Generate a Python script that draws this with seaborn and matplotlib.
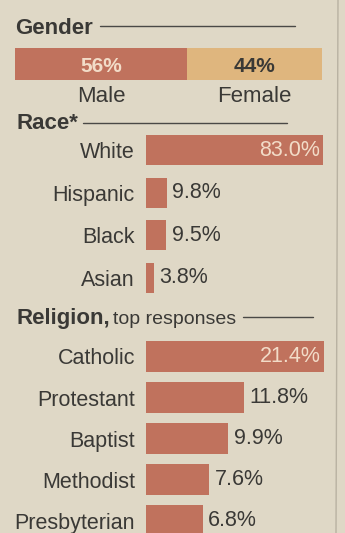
import matplotlib
matplotlib.use("Agg")
import matplotlib.pyplot as plt
import seaborn as sns
import pandas as pd

# ---------------- data ----------------
gender_labels = ["Male", "Female"]
gender_values = [56, 44]

race_labels = ["White", "Hispanic", "Black", "Asian"]
race_values = [83.0, 9.8, 9.5, 3.8]

religion_labels = ["Catholic", "Protestant", "Baptist", "Methodist", "Presbyterian"]
religion_values = [21.4, 11.8, 9.9, 7.6, 6.8]

# ---------------- style ----------------
BG = "#dfd8c6"
BAR = "#c0725d"
FEMALE = "#dfb67e"
TXT = "#3a3936"
INNER = "#f2dcc8"

sns.set_theme(style="white")
plt.rcParams["font.family"] = ["Liberation Sans", "DejaVu Sans"]

W, H = 345, 533
fig = plt.figure(figsize=(W / 100, H / 100), dpi=100, facecolor=BG)


def px_axes(x0, y0, x1, y1):
    ax = fig.add_axes([x0 / W, 1 - y1 / H, (x1 - x0) / W, (y1 - y0) / H])
    ax.set_facecolor("none")
    for s in ax.spines.values():
        s.set_visible(False)
    return ax


def px_line(x0, x1, y, lw=1.0, color="#4a4946"):
    fig.add_artist(plt.Line2D([x0 / W, x1 / W], [1 - y / H, 1 - y / H],
                              color=color, lw=lw, transform=fig.transFigure))


def px_text(x, y, s, **kw):
    fig.text(x / W, 1 - y / H, s, color=kw.pop("color", TXT), **kw)


# ---------------- Gender ----------------
px_text(15, 34, "Gender", fontsize=16, fontweight="bold", va="baseline")
px_line(100, 295, 26)

axg = px_axes(15, 48, 322, 80)
total = sum(gender_values)
sns.barplot(x=[total], y=["Gender"], orient="h", color=FEMALE, width=1.0,
            saturation=1, linewidth=0, ax=axg)
sns.barplot(x=[gender_values[0]], y=["Gender"], orient="h", color=BAR, width=1.0,
            saturation=1, linewidth=0, ax=axg)
axg.set_xlim(0, total)
axg.set_ylim(0.5, -0.5)
axg.set_xticks([]); axg.set_yticks([])
axg.set_xlabel(""); axg.set_ylabel("")
left = 0
for i, (lab, v) in enumerate(zip(gender_labels, gender_values)):
    c = left + v / 2
    axg.text(c, 0.08, f"{v}%", ha="center", va="center", fontsize=15,
             fontweight="bold", color=INNER if i == 0 else TXT)
    axg.text(c, 1.0, lab, ha="center", va="center", fontsize=16, color=TXT,
             clip_on=False)
    left += v

# ---------------- Race ----------------
px_text(17, 129, "Race*", fontsize=16, fontweight="bold", va="baseline")
px_line(83, 287, 123)


def section(labels, values, x0, y_top, y_bot, ppu, width, fs):
    axr = px_axes(x0, y_top, 340, y_bot)
    df = pd.DataFrame({"cat": labels, "val": values})
    sns.barplot(data=df, x="val", y="cat", orient="h", color=BAR, width=width,
                saturation=1, linewidth=0, ax=axr)
    axr.set_xlim(0, (340 - x0) / ppu)
    axr.set_ylim(len(labels) - 0.5, -0.5)
    axr.set_xticks([])
    axr.set_xlabel(""); axr.set_ylabel("")
    axr.tick_params(axis="y", length=0, pad=8, labelsize=fs, labelcolor=TXT)
    vmax = max(values)
    for i, v in enumerate(values):
        if v == vmax:
            axr.annotate(f"{v:.1f}%", (v, i), xytext=(-2, 0), textcoords="offset points",
                         ha="right", va="center", fontsize=fs, color=INNER)
        else:
            axr.annotate(f"{v:.1f}%", (v, i), xytext=(4, 0), textcoords="offset points",
                         ha="left", va="center", fontsize=fs, color=TXT)
    return axr


section(race_labels, race_values, 146, 128.7, 299.3, 177 / 83.0, 0.70, 15.5)

# ---------------- Religion ----------------
px_text(16, 324, "Religion,", fontsize=16, fontweight="bold", va="baseline")
px_text(113, 324, "top responses", fontsize=14, va="baseline")
px_line(243, 313, 317)

section(religion_labels, religion_values, 146, 336, 541, 178 / 21.4, 0.76, 15.5)

# page edge
fig.add_artist(plt.Line2D([338 / W, 336 / W], [1, 0], color="#b9b2a2", lw=1.0,
                          transform=fig.transFigure))

fig.savefig("out.png", dpi=100, facecolor=BG)
